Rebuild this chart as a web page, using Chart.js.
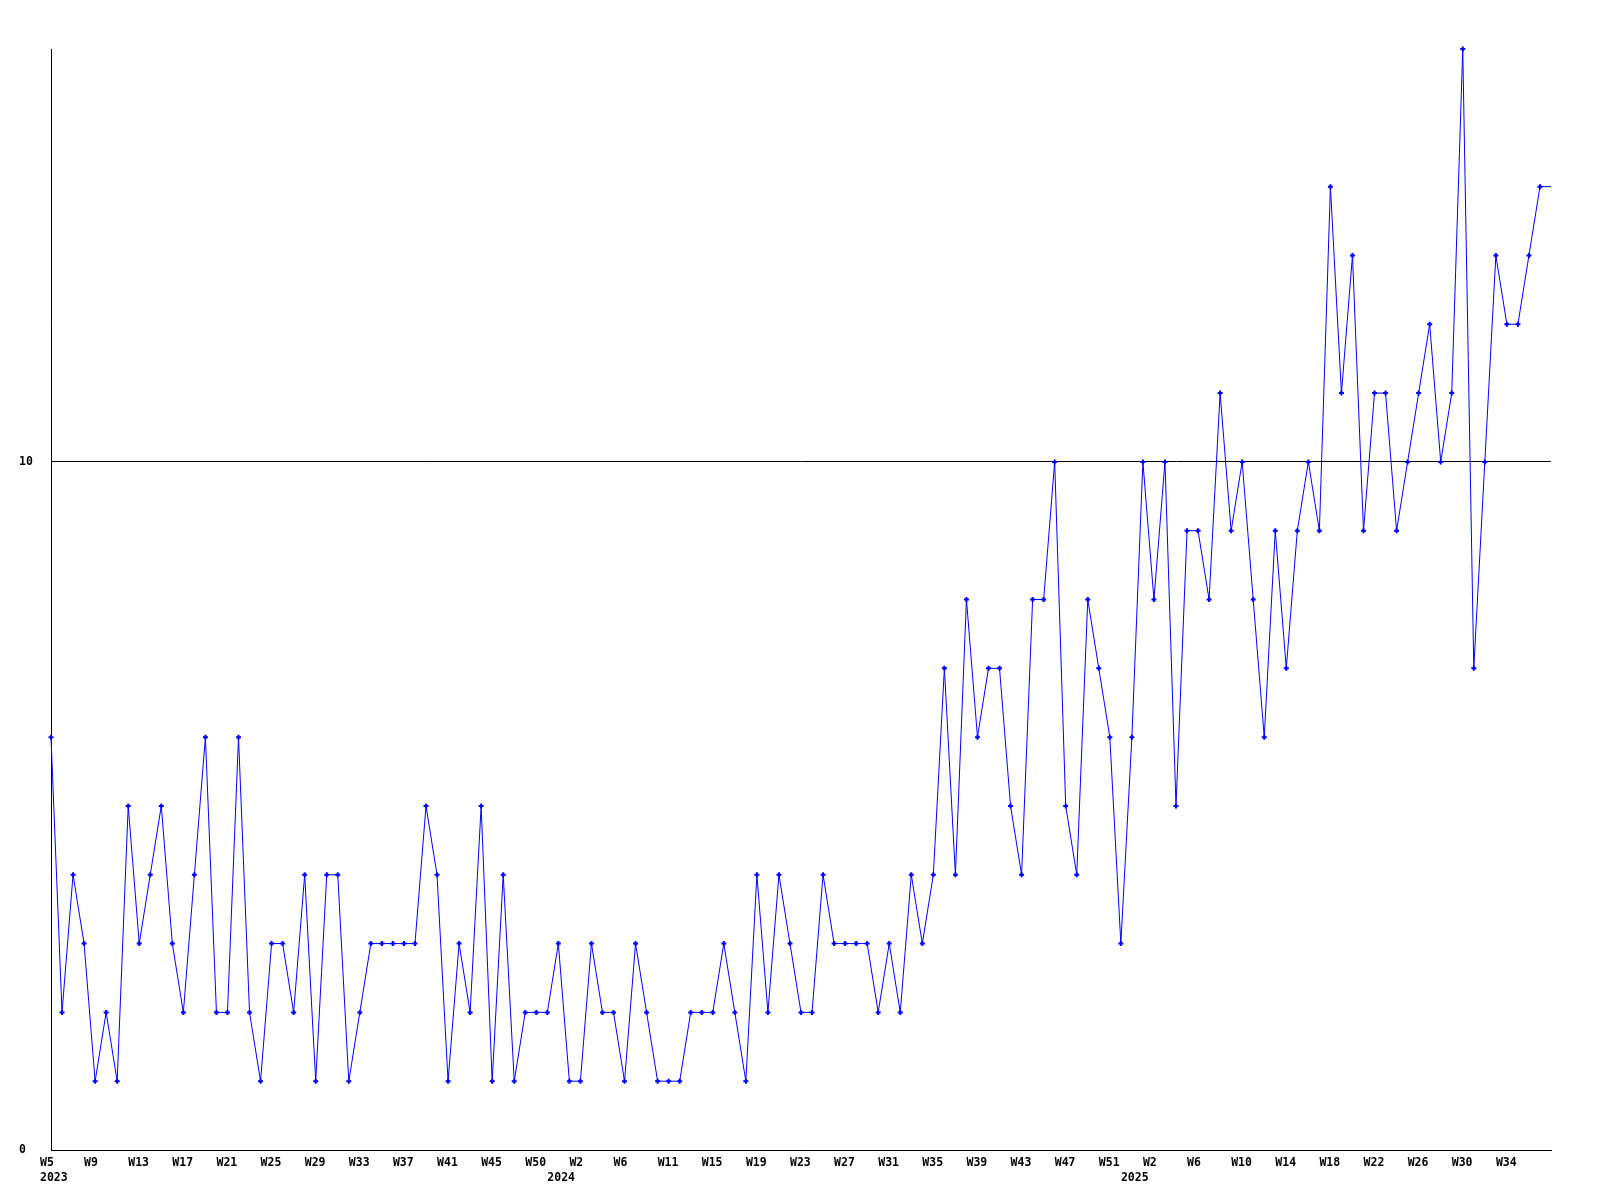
<!DOCTYPE html>
<html>
<head>
<meta charset="utf-8">
<title>Weekly count</title>
<script src="https://cdn.jsdelivr.net/npm/chart.js@4.4.1/dist/chart.umd.min.js"></script>
<style>
    body { margin: 0; background: #ffffff; }
    canvas { display: block; }
</style>
</head>
<body>
<canvas id="chart" width="1600" height="1200"></canvas>
<script>
// weekly values, 2023 W5 onwards
const weeklyValues = [
    6, 2, 4, 3, 1, 2, 1, 5, 3, 4, 5, 3, 2, 4, 6, 2, 2, 6, 2, 1,
    3, 3, 2, 4, 1, 4, 4, 1, 2, 3, 3, 3, 3, 3, 5, 4, 1, 3, 2, 5,
    1, 4, 1, 2, 2, 2, 3, 1, 1, 3, 2, 2, 1, 3, 2, 1, 1, 1, 2, 2,
    2, 3, 2, 1, 4, 2, 4, 3, 2, 2, 4, 3, 3, 3, 3, 2, 3, 2, 4, 3,
    4, 7, 4, 8, 6, 7, 7, 5, 4, 8, 8, 10, 5, 4, 8, 7, 6, 3, 6, 10,
    8, 10, 5, 9, 9, 8, 11, 9, 10, 8, 6, 9, 7, 9, 10, 9, 14, 11, 13, 9,
    11, 11, 9, 10, 11, 12, 10, 11, 16, 7, 10, 13, 12, 12, 13, 14, 14
];

// tick labels shown every 4th week
const weekTicks = [
    'W5', 'W9', 'W13', 'W17', 'W21', 'W25', 'W29', 'W33', 'W37', 'W41', 'W45', 'W50',
    'W2', 'W6', 'W11', 'W15', 'W19', 'W23', 'W27', 'W31', 'W35', 'W39', 'W43', 'W47', 'W51',
    'W2', 'W6', 'W10', 'W14', 'W18', 'W22', 'W26', 'W30', 'W34'
];
const yearTicks = ['2023', '2024', '2025'];
const yearTickIndex = [0, 46, 98];
const yTicks = [0, 10];

const categories = weeklyValues.map((v, i) => i);

const labelFont = { family: '"DejaVu Sans Mono", monospace', size: 11.5, weight: 'bold', lineHeight: '15px' };

function xTickLabel(value, index) {
    const week = index % 4 === 0 ? weekTicks[index / 4] || '' : '';
    const y = yearTickIndex.indexOf(index);
    if (y >= 0) return [week, yearTicks[y]];
    return week;
}

new Chart(document.getElementById('chart'), {
    type: 'line',
    data: {
        labels: categories,
        datasets: [{
            data: weeklyValues,
            borderColor: '#0000ff',
            borderWidth: 1,
            tension: 0,
            clip: false,
            pointStyle: 'cross',
            pointRadius: ctx => ctx.dataIndex === weeklyValues.length - 1 ? 0 : 2.5,
            pointBorderColor: '#0000ff',
            pointBorderWidth: 2,
            pointHoverRadius: 0
        }]
    },
    options: {
        responsive: false,
        animation: false,
        devicePixelRatio: 1,
        layout: { padding: { left: 19, right: 49, top: 49, bottom: 0 } },
        plugins: { legend: { display: false }, tooltip: { enabled: false } },
        events: [],
        scales: {
            x: {
                type: 'category',
                offset: false,
                grid: { display: false, drawTicks: false },
                border: { display: true, color: '#000000', width: 1 },
                afterFit: scale => { scale.height = 50; },
                ticks: {
                    autoSkip: false,
                    maxRotation: 0,
                    minRotation: 0,
                    align: 'start',
                    labelOffset: -11,
                    padding: 6,
                    color: '#000000',
                    font: labelFont,
                    callback: xTickLabel
                }
            },
            y: {
                min: 0,
                max: 16,
                afterBuildTicks: scale => { scale.ticks = yTicks.map(v => ({ value: v })); },
                afterFit: scale => { scale.width = 32; },
                grid: { color: '#000000', lineWidth: 1, drawTicks: false },
                border: { display: true, color: '#000000', width: 1 },
                ticks: {
                    crossAlign: 'far',
                    color: '#000000',
                    font: labelFont
                }
            }
        }
    }
});
</script>
</body>
</html>
